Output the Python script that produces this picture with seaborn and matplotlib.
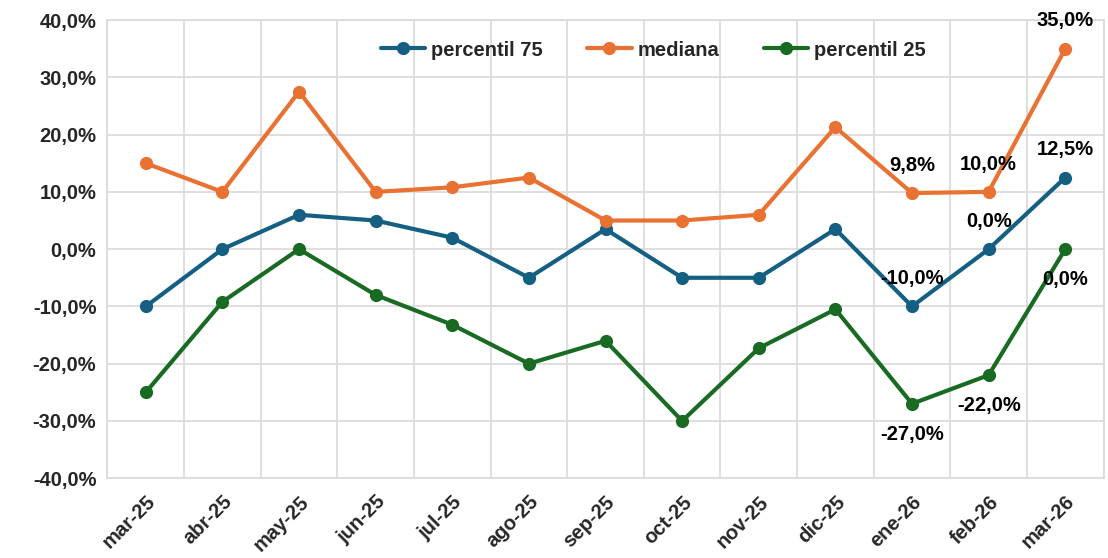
import numpy as np
import pandas as pd
import matplotlib
matplotlib.use("Agg")
import matplotlib.pyplot as plt
import seaborn as sns

# --- data ---
months = ["mar-25", "abr-25", "may-25", "jun-25", "jul-25", "ago-25", "sep-25",
          "oct-25", "nov-25", "dic-25", "ene-26", "feb-26", "mar-26"]
p75 = [-10.0, 0.0, 6.0, 5.0, 2.0, -5.0, 3.5, -5.0, -5.0, 3.5, -10.0, 0.0, 12.5]
mediana = [15.0, 10.0, 27.5, 10.0, 10.8, 12.5, 5.0, 5.0, 6.0, 21.3, 9.8, 10.0, 35.0]
p25 = [-25.0, -9.2, 0.0, -8.0, -13.2, -20.0, -16.0, -30.0, -17.3, -10.5, -27.0, -22.0, 0.0]
series_names = ["percentil 75", "mediana", "percentil 25"]
colors = ["#156082", "#E97132", "#196B24"]
y_ticks = [-40, -30, -20, -10, 0, 10, 20, 30, 40]

FS = 14.5

sns.set_theme(style="white")
plt.rcParams["font.family"] = ["Liberation Sans", "DejaVu Sans"]
plt.rcParams["font.weight"] = "bold"

df = pd.DataFrame({
    "mes": months * 3,
    "pos": list(range(len(months))) * 3,
    "valor": p75 + mediana + p25,
    "serie": sum([[n] * len(months) for n in series_names], []),
})

fig, ax = plt.subplots(figsize=(11.08, 5.58), dpi=100)
fig.subplots_adjust(left=0.097, right=0.996, top=0.964, bottom=0.143)

sns.lineplot(data=df, x="pos", y="valor", hue="serie", hue_order=series_names,
             palette=colors, marker="o", markersize=9.5, markeredgewidth=0,
             linewidth=3.0, sort=False, ax=ax)

ax.set_xlim(-0.5, len(months) - 0.5)
ax.set_ylim(-40, 40)
ax.set_yticks(y_ticks)
ax.set_yticklabels([f"{v:.1f}%".replace(".", ",") for v in y_ticks],
                   fontsize=FS, fontweight="bold")
ax.set_xticks(range(len(months)))
ax.set_xticklabels(months, rotation=45, ha="right", rotation_mode="anchor",
                   fontsize=FS, fontweight="bold")
ax.tick_params(axis="x", pad=10, length=0)
ax.tick_params(axis="y", pad=8, length=0)
ax.set_xlabel("")
ax.set_ylabel("")

# excel-like grid: vertical lines between categories
ax.set_xticks(np.arange(-0.5, len(months), 1), minor=True)
ax.grid(which="minor", axis="x", color="#d9d9d9", linewidth=1.2)
ax.grid(which="major", axis="y", color="#d9d9d9", linewidth=1.2)
ax.grid(which="major", axis="x", visible=False)
for s in ax.spines.values():
    s.set_color("#d9d9d9")
    s.set_linewidth(1.2)
ax.set_axisbelow(True)

# data labels on the last three months
def fmt(v):
    return f"{v:.1f}%".replace(".", ",")

for vals, below in [(mediana, False), (p75, False), (p25, True)]:
    for i in range(len(months) - 3, len(months)):
        off = -22 if below else 20
        ax.annotate(fmt(vals[i]), (i, vals[i]), xytext=(0, off),
                    textcoords="offset points", ha="center", va="center",
                    fontsize=FS, fontweight="bold", color="black")

leg = ax.legend(loc="upper center", bbox_to_anchor=(0.548, 0.995), ncol=3,
                frameon=False, fontsize=FS, handlelength=2.2,
                columnspacing=2.2, handletextpad=0.3)
for t in leg.get_texts():
    t.set_fontweight("bold")

fig.savefig("out.png", dpi=100, facecolor="white")
